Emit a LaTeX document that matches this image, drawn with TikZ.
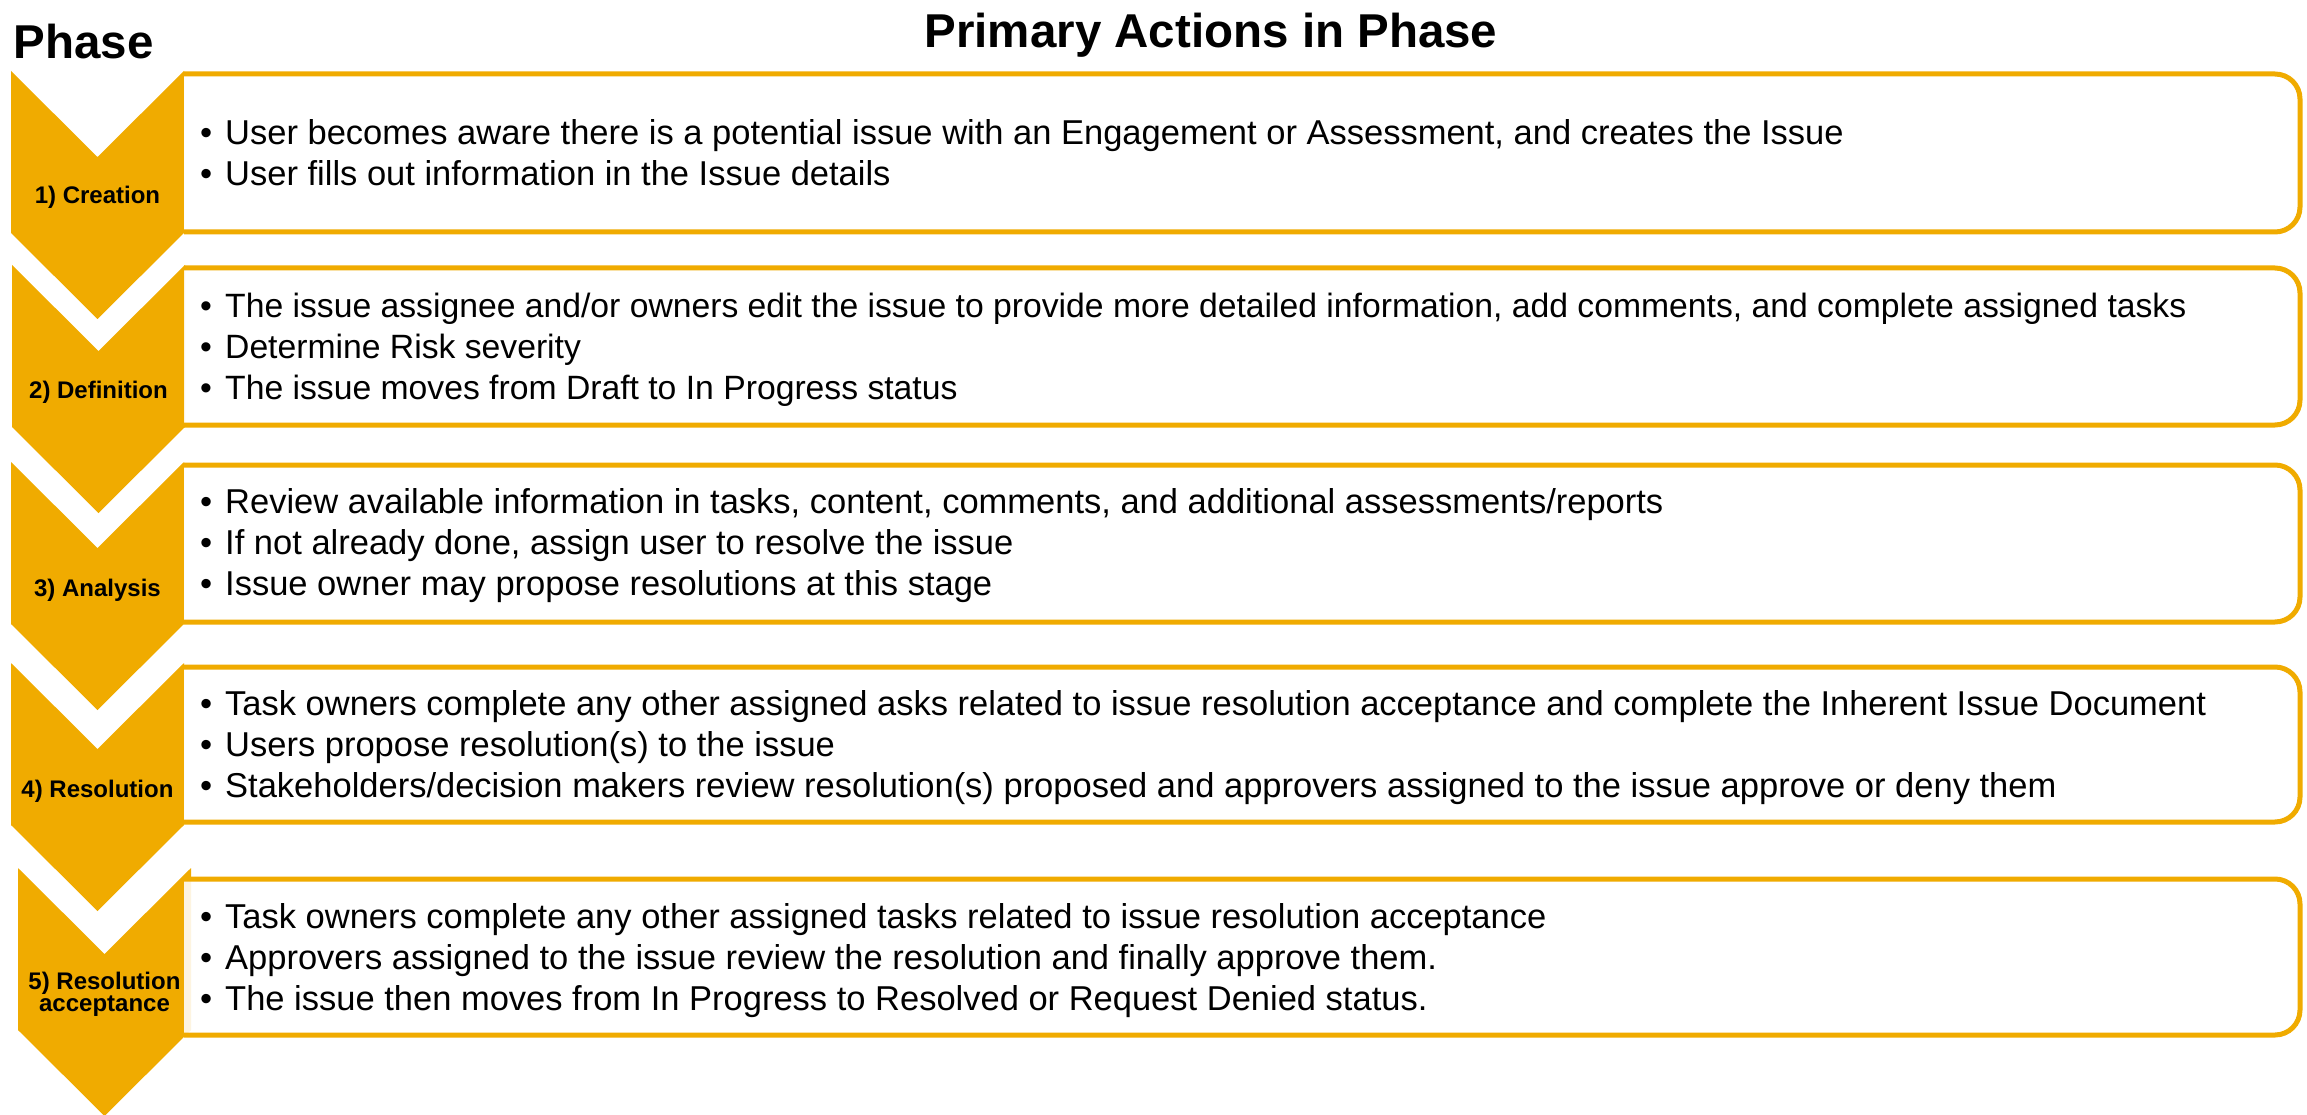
\documentclass[tikz,border=0pt]{standalone}
\usepackage{fontspec}
\setmainfont{Liberation Sans}
\definecolor{gold}{RGB}{240,171,0}
\newcommand\bul{\makebox[25pt][l]{•}}
\tikzset{
  chevshape/.style={fill=gold},
  actionbox/.style={draw=gold, line width=5pt, fill=white, fill opacity=0.88, draw opacity=1, rounded corners=25pt},
  phaselabel/.style={inner sep=0pt, font=\bfseries\fontsize{24pt}{22.5pt}\selectfont, align=center},
  actionline/.style={inner sep=0pt, anchor=base west, font=\fontsize{34.5pt}{41pt}\selectfont},
  denseline/.style={actionline, font=\fontsize{33.7pt}{41pt}\selectfont},
  heading/.style={inner sep=0pt, font=\bfseries\fontsize{47.5pt}{50pt}\selectfont}
}
\begin{document}
\begin{tikzpicture}[x=1pt, y=-1pt]
\useasboundingbox (0,0) rectangle (2307,1115);

% phase chevrons: left edge / top edge
\foreach \l/\t in {11/71, 12/265, 11/462, 11/663, 18/868} {
  \fill[chevshape] (\l,\t) -- ++(86.5,86) -- ++(86.5,-86) -- ++(0,162)
        -- ++(-86.5,86) -- ++(-86.5,-86) -- cycle;
}

% action boxes, rounded on the right side only
\foreach \t/\b in {74/232, 268/425, 465/622, 667/822, 879/1035} {
  \filldraw[actionbox] (184,\t) -- (2300,\t) -- (2300,\b) -- (184,\b);
}

% headings
\node[heading, anchor=base west] (phasehead) at (13.5,59) {Phase};
\node[heading, anchor=base] (actionhead) at (1211,48) {Primary Actions in Phase};

% phase labels
\node[phaselabel, anchor=base] (p1) at (97.5,204) {1) Creation};
\node[phaselabel, anchor=base] (p2) at (98.5,398) {2) Definition};
\node[phaselabel, anchor=base] (p3) at (97.5,596) {3) Analysis};
\node[phaselabel, anchor=base] (p4) at (97.5,797) {4) Resolution};
\node[phaselabel, anchor=center] (p5) at (104.5,994.5) {5) Resolution\\acceptance};

% actions of phase 1
\node[actionline] (a11) at (200,144.9) {\bul User becomes aware there is a potential issue with an Engagement or Assessment, and creates the Issue};
\node[actionline] (a12) at (200,185.9) {\bul User fills out information in the Issue details};

% actions of phase 2
\node[denseline] (a21) at (200,317.9) {\bul The issue assignee and/or owners edit the issue to provide more detailed information, add comments, and complete assigned tasks};
\node[denseline] (a22) at (200,358.9) {\bul Determine Risk severity};
\node[denseline] (a23) at (200,399.9) {\bul The issue moves from Draft to In Progress status};

% actions of phase 3
\node[actionline] (a31) at (200,513) {\bul Review available information in tasks, content, comments, and additional assessments/reports};
\node[actionline] (a32) at (200,554) {\bul If not already done, assign user to resolve the issue};
\node[actionline] (a33) at (200,595) {\bul Issue owner may propose resolutions at this stage};

% actions of phase 4
\node[actionline] (a41) at (200,715) {\bul Task owners complete any other assigned asks related to issue resolution acceptance and complete the Inherent Issue Document};
\node[actionline] (a42) at (200,756) {\bul Users propose resolution(s) to the issue};
\node[actionline] (a43) at (200,797) {\bul Stakeholders/decision makers review resolution(s) proposed and approvers assigned to the issue approve or deny them};

% actions of phase 5
\node[actionline] (a51) at (200,928) {\bul Task owners complete any other assigned tasks related to issue resolution acceptance};
\node[actionline] (a52) at (200,969) {\bul Approvers assigned to the issue review the resolution and finally approve them.};
\node[actionline] (a53) at (200,1010) {\bul The issue then moves from In Progress to Resolved or Request Denied status.};
\end{tikzpicture}
\end{document}
